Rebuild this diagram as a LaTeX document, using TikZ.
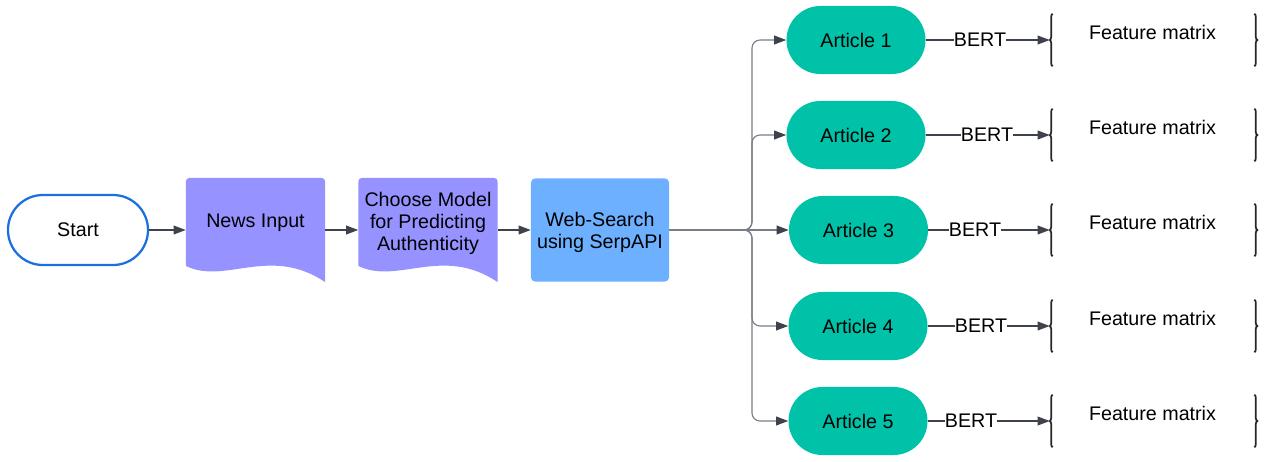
\documentclass[tikz,border=0pt]{standalone}
\usepackage{fontspec}
\setmainfont{Liberation Sans}
\usetikzlibrary{arrows.meta,decorations.pathreplacing}
\definecolor{startblue}{RGB}{27,111,222}
\definecolor{docpurple}{RGB}{150,146,255}
\definecolor{webblue}{RGB}{108,176,255}
\definecolor{articleteal}{RGB}{0,194,168}
\definecolor{linedark}{RGB}{62,66,76}
\definecolor{linegrey}{RGB}{120,125,135}
\begin{document}
\begin{tikzpicture}[
    x=0.025cm,
    y=-0.025cm,
    font=\fontsize{14}{15.5}\selectfont,
    startblock/.style={
      rectangle,
      draw=startblue,
      line width=1.6pt,
      fill=white,
      rounded corners=0.875cm,
      minimum width=3.5cm,
      minimum height=1.75cm
    },
    docblock/.style={
      rectangle,
      minimum width=3.475cm,
      minimum height=2.6cm,
      path picture={
        \fill[docpurple] ([yshift=0.4cm]path picture bounding box.south west)
          [rounded corners=0.08cm] -- (path picture bounding box.north west)
          -- (path picture bounding box.north east) [sharp corners]
          -- (path picture bounding box.south east)
          .. controls +(-1.375cm,0.925cm) and +(0.975cm,-0.475cm)
          .. ([yshift=0.4cm]path picture bounding box.south west) -- cycle;
      }
    },
    webblock/.style={
      rectangle,
      fill=webblue,
      rounded corners=0.1cm,
      minimum width=3.45cm,
      minimum height=2.575cm
    },
    article/.style={
      rectangle,
      fill=articleteal,
      rounded corners=0.85cm,
      minimum width=3.475cm,
      minimum height=1.7cm
    },
    feature/.style={
      rectangle,
      inner sep=0pt,
      minimum width=5.175cm,
      minimum height=1.3cm
    },
    bert/.style={inner sep=0pt},
    flow/.style={
      draw=linedark,
      line width=0.8pt,
      -{Triangle[length=0.3cm,width=0.22cm]}
    },
    branch/.style={
      flow,
      draw=linegrey,
      rounded corners=0.2cm,
      -{Triangle[length=0.3cm,width=0.22cm,color=linedark]}
    },
    plain/.style={draw=linedark, line width=0.8pt},
    brace/.style={
      draw=black!85,
      line width=1.2pt,
      decorate,
      decoration={brace,amplitude=0.075cm}
    }]

    \useasboundingbox (0,0) rectangle (1271,461);

    % start
    \draw (78,230) node[startblock] (S) {Start};
    % news input
    \draw (255.5,230) node[docblock] (N) {};
    \node (Nt) at (255.5,223) {News Input};
    % choose model
    \draw (428,230) node[docblock] (M) {};
    \node[align=center] (Mt) at (428,223.5) {Choose Model\\for Predicting\\Authenticity};
    % web search
    \draw (600,230) node[webblock] (W) {};
    \node[align=center] (Wt) at (600,232.5) {Web-Search\\using SerpAPI};
    \coordinate (split) at (752,230);

    % articles
    \draw (856,40) node[article] (A1) {Article 1};
    \draw (856,135) node[article] (A2) {Article 2};
    \draw (858.5,230) node[article] (A3) {Article 3};
    \draw (858,326) node[article] (A4) {Article 4};
    \draw (858,421) node[article] (A5) {Article 5};

    % bert labels
    \node[bert] (B1) at (980,40) {BERT};
    \node[bert] (B2) at (987,135) {BERT};
    \node[bert] (B3) at (975,230) {BERT};
    \node[bert] (B4) at (981,326) {BERT};
    \node[bert] (B5) at (971,421) {BERT};

    % feature matrices
    \draw (1153.5,40) node[feature] (F1) {};
    \draw (1153.5,135) node[feature] (F2) {};
    \draw (1153.5,230) node[feature] (F3) {};
    \draw (1153.5,326) node[feature] (F4) {};
    \draw (1153.5,421) node[feature] (F5) {};
    \node (T1) at (1152.5,32.5) {Feature matrix};
    \node (T2) at (1152.5,127.5) {Feature matrix};
    \node (T3) at (1152.5,222.5) {Feature matrix};
    \node (T4) at (1152.5,318.5) {Feature matrix};
    \node (T5) at (1152.5,413.5) {Feature matrix};
    \draw[brace] ([xshift=0.075cm]F1.south west) -- ([xshift=0.075cm]F1.north west);
    \draw[brace] ([xshift=-0.075cm]F1.north east) -- ([xshift=-0.075cm]F1.south east);
    \draw[brace] ([xshift=0.075cm]F2.south west) -- ([xshift=0.075cm]F2.north west);
    \draw[brace] ([xshift=-0.075cm]F2.north east) -- ([xshift=-0.075cm]F2.south east);
    \draw[brace] ([xshift=0.075cm]F3.south west) -- ([xshift=0.075cm]F3.north west);
    \draw[brace] ([xshift=-0.075cm]F3.north east) -- ([xshift=-0.075cm]F3.south east);
    \draw[brace] ([xshift=0.075cm]F4.south west) -- ([xshift=0.075cm]F4.north west);
    \draw[brace] ([xshift=-0.075cm]F4.north east) -- ([xshift=-0.075cm]F4.south east);
    \draw[brace] ([xshift=0.075cm]F5.south west) -- ([xshift=0.075cm]F5.north west);
    \draw[brace] ([xshift=-0.075cm]F5.north east) -- ([xshift=-0.075cm]F5.south east);

    % lines
    \draw[flow] (S.east) -- (N.west);
    \draw[flow] (N.east) -- (M.west);
    \draw[flow] (M.east) -- (W.west);
    \draw[branch] (W.east) -- (split) |- (A1.west);
    \draw[branch] (W.east) -- (split) |- (A2.west);
    \draw[branch] (W.east) -- (A3.west);
    \draw[branch] (W.east) -- (split) |- (A4.west);
    \draw[branch] (W.east) -- (split) |- (A5.west);
    \draw[plain] (A1.east) -- (B1.west);
    \draw[plain] (A2.east) -- (B2.west);
    \draw[plain] (A3.east) -- (B3.west);
    \draw[plain] (A4.east) -- (B4.west);
    \draw[plain] (A5.east) -- (B5.west);
    \draw[flow] (B1.east) -- (F1.west);
    \draw[flow] (B2.east) -- (F2.west);
    \draw[flow] (B3.east) -- (F3.west);
    \draw[flow] (B4.east) -- (F4.west);
    \draw[flow] (B5.east) -- (F5.west);
  \end{tikzpicture}
\end{document}
